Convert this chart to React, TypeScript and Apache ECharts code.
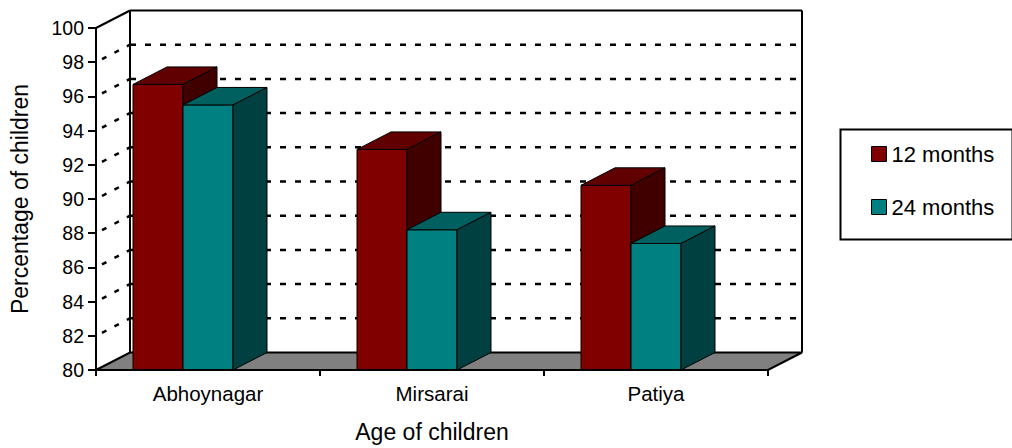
import React, { useEffect, useRef } from "react";
import * as echarts from "echarts";

const categories = ["Abhoynagar", "Mirsarai", "Patiya"];
const seriesNames = ["12 months", "24 months"];
const months12 = [96.7, 92.9, 90.8];
const months24 = [95.5, 88.2, 87.4];
const yMin = 80;
const yMax = 100;
const yStep = 2;
const gridValues = [82, 84, 86, 88, 90, 92, 94, 96, 98];

const FONT = "'Liberation Sans', Arial, sans-serif";
const DX = 34;
const DY = -17.5;
const BAR_FRAC = 50 / 224;
const OFFSETS = [-75 / 224, -25 / 224];
const COLORS = [
  { front: "#800000", top: "#600000", side: "#400000" },
  { front: "#008080", top: "#006060", side: "#004040" },
];

function barRenderer(idx: number) {
  return (params: any, api: any) => {
    const cat = api.value(0);
    const v = api.value(1);
    const top = api.coord([cat, v]);
    const base = api.coord([cat, yMin]);
    const w = api.size([1, 0])[0];
    const x0 = top[0] + OFFSETS[idx] * w;
    const x1 = x0 + BAR_FRAC * w;
    const yt = top[1];
    const yb = base[1];
    const c = COLORS[idx];
    const stroke = { stroke: "#000", lineWidth: 1 };
    return {
      type: "group",
      children: [
        {
          type: "rect",
          shape: { x: x0, y: yt, width: x1 - x0, height: yb - yt },
          style: { fill: c.front, ...stroke },
        },
        {
          type: "polygon",
          shape: { points: [[x0, yt], [x1, yt], [x1 + DX, yt + DY], [x0 + DX, yt + DY]] },
          style: { fill: c.top, ...stroke },
        },
        {
          type: "polygon",
          shape: { points: [[x1, yt], [x1 + DX, yt + DY], [x1 + DX, yb + DY], [x1, yb]] },
          style: { fill: c.side, ...stroke },
        },
      ],
    };
  };
}

function frameRenderer(params: any, api: any) {
  const w = api.size([1, 0])[0];
  const L = api.coord([0, yMin])[0] - w / 2;
  const R = api.coord([categories.length - 1, yMin])[0] + w / 2;
  const yB = api.coord([0, yMin])[1];
  const yT = api.coord([0, yMax])[1];
  const solid = { stroke: "#000", lineWidth: 2, fill: null };
  const dashed = { stroke: "#000", lineWidth: 2.5, lineDash: [6, 9], fill: null };
  const children: any[] = [];
  children.push({
    type: "polygon",
    shape: { points: [[L, yB], [R, yB], [R + DX, yB + DY], [L + DX, yB + DY]] },
    style: { fill: "#808080", stroke: "#000", lineWidth: 2 },
  });
  gridValues.forEach((g) => {
    const y = api.coord([0, g])[1];
    children.push({
      type: "line",
      shape: { x1: L + DX, y1: y + DY, x2: R + DX, y2: y + DY },
      style: dashed,
    });
    children.push({
      type: "line",
      shape: { x1: L + 6, y1: y - 3, x2: L + DX, y2: y + DY },
      style: { stroke: "#000", lineWidth: 2.5, lineDash: [5, 9], fill: null },
    });
  });
  children.push({ type: "line", shape: { x1: L, y1: yT, x2: L + DX, y2: yT + DY }, style: solid });
  children.push({ type: "line", shape: { x1: L + DX, y1: yT + DY, x2: R + DX, y2: yT + DY }, style: solid });
  children.push({ type: "line", shape: { x1: L + DX, y1: yT + DY, x2: L + DX, y2: yB + DY }, style: solid });
  children.push({ type: "line", shape: { x1: R + DX, y1: yT + DY, x2: R + DX, y2: yB + DY }, style: solid });
  return { type: "group", children };
}

export default function App() {
  const ref = useRef<HTMLDivElement>(null);
  useEffect(() => {
    if (!ref.current) return;
    const chart = echarts.init(ref.current, null, { renderer: "svg" });
    const toData = (arr: number[]) => arr.map((v, i) => [i, v]);
    chart.setOption({
      animation: false,
      grid: { left: 96, right: 244, top: 28, bottom: 77 },
      legend: {
        data: seriesNames,
        orient: "vertical",
        left: 866,
        top: 138,
        icon: "rect",
        itemWidth: 15,
        itemHeight: 15,
        itemGap: 31,
        itemStyle: { borderColor: "#000", borderWidth: 1 },
        textStyle: { fontFamily: FONT, fontSize: 22, color: "#000", padding: [0, 0, 0, 0] },
        selectedMode: false,
      },
      graphic: [
        {
          type: "rect",
          left: 838,
          top: 127,
          shape: { width: 172, height: 110 },
          style: { fill: "none", stroke: "#000", lineWidth: 2 },
          silent: true,
        },
      ],
      xAxis: {
        type: "category",
        data: categories,
        z: 5,
        name: "Age of children",
        nameLocation: "middle",
        nameGap: 50,
        nameTextStyle: { fontFamily: FONT, fontSize: 23, color: "#000" },
        axisLine: { show: true, lineStyle: { color: "#000", width: 2 } },
        axisTick: { show: true, length: 6, lineStyle: { color: "#000", width: 2 } },
        axisLabel: { fontFamily: FONT, fontSize: 20.5, color: "#000", margin: 13 },
        splitLine: { show: false },
      },
      yAxis: {
        type: "value",
        min: yMin,
        max: yMax,
        interval: yStep,
        name: "Percentage of children",
        nameLocation: "middle",
        nameGap: 65,
        nameTextStyle: { fontFamily: FONT, fontSize: 23, color: "#000" },
        axisLine: { show: true, lineStyle: { color: "#000", width: 2 } },
        axisTick: { show: true, length: 8, lineStyle: { color: "#000", width: 2 } },
        axisLabel: { fontFamily: FONT, fontSize: 19.5, color: "#000", margin: 12 },
        splitLine: { show: false },
      },
      series: [
        {
          type: "custom",
          name: "frame",
          silent: true,
          z: 1,
          renderItem: frameRenderer,
          data: [[0, yMin]],
          encode: { x: 0, y: 1 },
        },
        {
          type: "custom",
          name: seriesNames[0],
          silent: true,
          z: 2,
          itemStyle: { color: COLORS[0].front },
          renderItem: barRenderer(0),
          data: toData(months12),
          encode: { x: 0, y: 1 },
        },
        {
          type: "custom",
          name: seriesNames[1],
          silent: true,
          z: 2,
          itemStyle: { color: COLORS[1].front },
          renderItem: barRenderer(1),
          data: toData(months24),
          encode: { x: 0, y: 1 },
        },
      ],
    });
    return () => chart.dispose();
  }, []);
  return (
    <div
      ref={ref}
      style={{ position: "absolute", left: 0, top: 0, width: 1012, height: 448, background: "#fff" }}
    />
  );
}
